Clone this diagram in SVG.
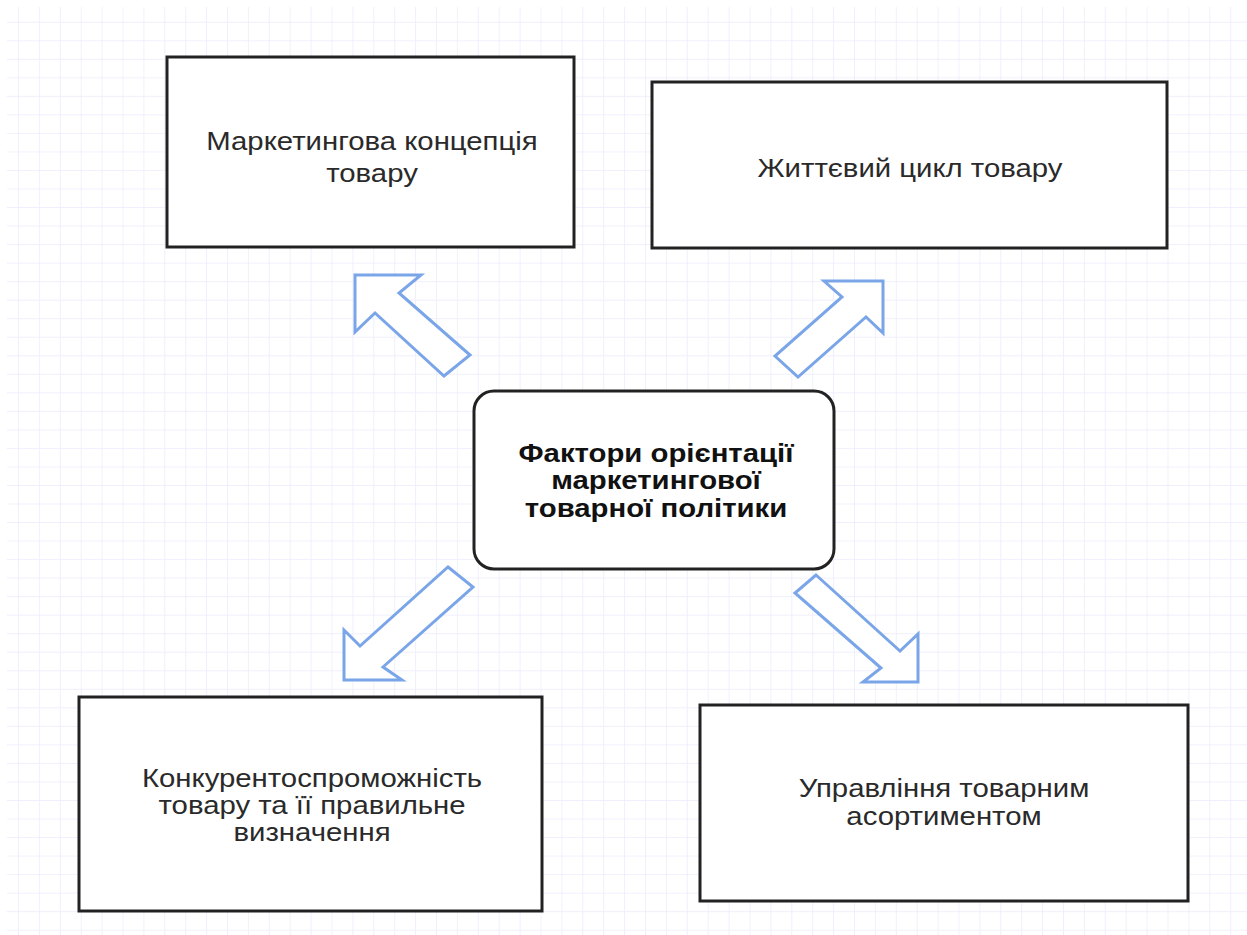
<svg xmlns="http://www.w3.org/2000/svg" width="1247" height="935" viewBox="0 0 1247 935">
<defs>
<pattern id="grid" x="18" y="3.2" width="20.9" height="18.53" patternUnits="userSpaceOnUse">
<path d="M0 0V18.53M0 0H20.9" fill="none" stroke="#ebebfd" stroke-width="1.5"/>
</pattern>
<style>
.box{fill:#fff;stroke:#222;stroke-width:3}
.arr{fill:#fff;stroke:#7aa5e8;stroke-width:3;stroke-linejoin:miter}
.t{font-family:"Liberation Sans",Arial,sans-serif;font-size:26px;fill:#2a2a2a;text-anchor:middle}
.b{font-weight:bold;font-size:26px;fill:#111}
</style>
</defs>
<rect width="1247" height="935" fill="#fff"/>
<rect x="7" y="7" width="1240" height="928" fill="url(#grid)"/>
<g id="connectors">
<polygon class="arr" points="355,275 421,275 399,293 470,355 444,376 375,313 355,332"/>
<polygon class="arr" points="883,281 824,281 842,297 775,356 798,377 866,317 883,333"/>
<polygon class="arr" points="448,567 473,587 383,667 402,680 344,680 344,630 360,646"/>
<polygon class="arr" points="816,575 900,651 918,634 918,682 863,682 881,668 795,593"/>
</g>
<g id="n1">
<rect class="box" x="167" y="57" width="407" height="190"/>
<text class="t" transform="matrix(1.128 0 0 1 372 150)">Маркетингова концепція</text>
<text class="t" transform="matrix(1.128 0 0 1 372 182)">товару</text>
</g>
<g id="n2">
<rect class="box" x="652" y="82" width="515" height="166"/>
<text class="t" transform="matrix(1.128 0 0 1 910 177)">Життєвий цикл товару</text>
</g>
<g id="n3">
<rect class="box" x="474" y="391" width="360" height="178" rx="20" ry="20"/>
<text class="t b" transform="matrix(1.128 0 0 1 656 462)">Фактори орієнтації</text>
<text class="t b" transform="matrix(1.128 0 0 1 656 489)">маркетингової</text>
<text class="t b" transform="matrix(1.128 0 0 1 656 517)">товарної політики</text>
</g>
<g id="n4">
<rect class="box" x="79" y="697" width="463" height="214"/>
<text class="t" transform="matrix(1.128 0 0 1 312 787)">Конкурентоспроможність</text>
<text class="t" transform="matrix(1.128 0 0 1 312 814)">товару та її правильне</text>
<text class="t" transform="matrix(1.128 0 0 1 312 841)">визначення</text>
</g>
<g id="n5">
<rect class="box" x="700" y="705" width="488" height="196"/>
<text class="t" transform="matrix(1.128 0 0 1 944 797)">Управління товарним</text>
<text class="t" transform="matrix(1.128 0 0 1 944 825)">асортиментом</text>
</g>
</svg>
